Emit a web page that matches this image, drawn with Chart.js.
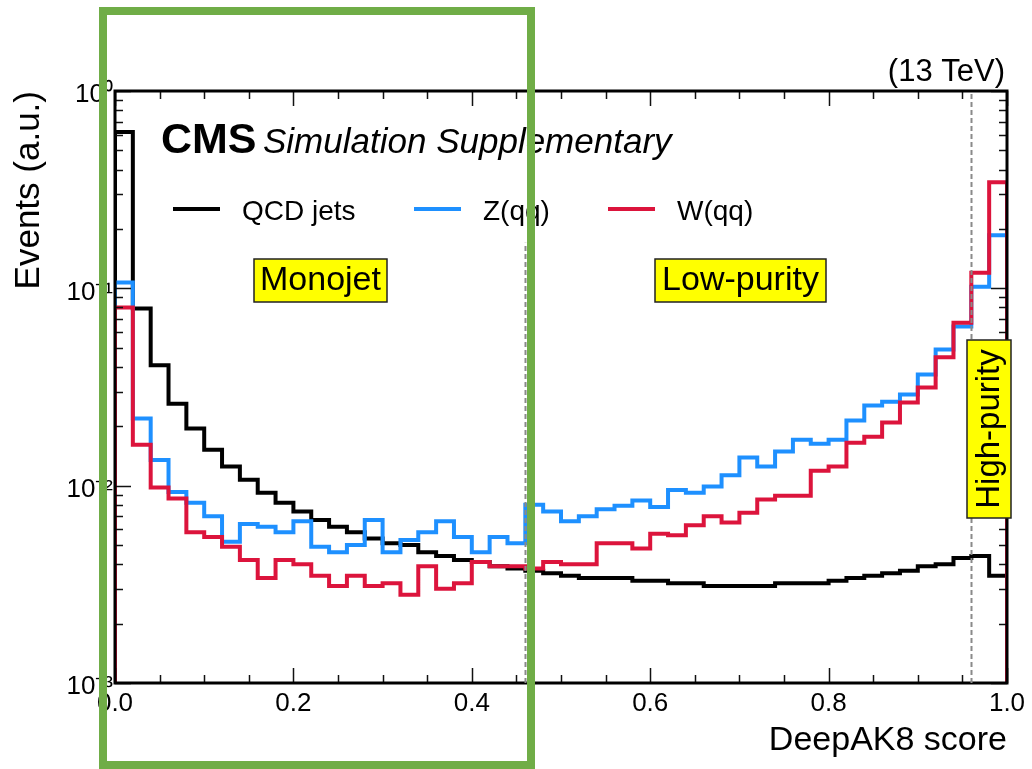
<!DOCTYPE html>
<html>
<head>
<meta charset="utf-8">
<title>DeepAK8 score</title>
<script src="https://cdn.jsdelivr.net/npm/chart.js@4/dist/chart.umd.min.js"></script>
<style>
  html, body { margin: 0; padding: 0; background: #ffffff; }
  #wrap { width: 1032px; height: 769px; position: relative; }
  canvas { display: block; }
</style>
</head>
<body>
<div id="wrap"><canvas id="chart" width="1032" height="769"></canvas></div>
<script>
// Histogram bin edges of the DeepAK8 score (50 bins)
const binEdges = [
  0.00, 0.02, 0.04, 0.06, 0.08, 0.10, 0.12, 0.14, 0.16, 0.18,
  0.20, 0.22, 0.24, 0.26, 0.28, 0.30, 0.32, 0.34, 0.36, 0.38,
  0.40, 0.42, 0.44, 0.46, 0.48, 0.50, 0.52, 0.54, 0.56, 0.58,
  0.60, 0.62, 0.64, 0.66, 0.68, 0.70, 0.72, 0.74, 0.76, 0.78,
  0.80, 0.82, 0.84, 0.86, 0.88, 0.90, 0.92, 0.94, 0.96, 0.98, 1.00
];

// Normalised event fractions per bin
const qcdJets = [
  0.62, 0.079, 0.0407, 0.026, 0.0195, 0.0152, 0.0125, 0.0107, 0.0092, 0.0082,
  0.0074, 0.0067, 0.0062, 0.0058, 0.0054, 0.0051, 0.0050, 0.0046, 0.0044, 0.0042,
  0.0041, 0.0039, 0.0038, 0.0037, 0.0036, 0.0035, 0.0034, 0.0034, 0.0034, 0.0033,
  0.0033, 0.0032, 0.0032, 0.0031, 0.0031, 0.0031, 0.0031, 0.0032, 0.0032, 0.0032,
  0.0033, 0.0034, 0.0035, 0.0036, 0.0037, 0.0039, 0.0040, 0.0043, 0.0044, 0.0035
];
const zToQQ = [
  0.107, 0.0219, 0.0135, 0.0093, 0.0082, 0.0070, 0.0052, 0.0064, 0.0062, 0.0058,
  0.0066, 0.0049, 0.0046, 0.0050, 0.0067, 0.0046, 0.0053, 0.0058, 0.0066, 0.0055,
  0.0046, 0.0055, 0.0051, 0.0080, 0.0074, 0.0066, 0.0070, 0.0076, 0.0079, 0.0084,
  0.0078, 0.0095, 0.0092, 0.0099, 0.0113, 0.0139, 0.0125, 0.0149, 0.0171, 0.0163,
  0.0171, 0.0214, 0.0255, 0.0266, 0.0290, 0.0366, 0.049, 0.064, 0.102, 0.186
];
const wToQQ = [
  0.080, 0.0161, 0.0098, 0.0086, 0.0058, 0.0055, 0.0049, 0.0042, 0.0034, 0.0042,
  0.0040, 0.0035, 0.0031, 0.0035, 0.0031, 0.0032, 0.0028, 0.0039, 0.0030, 0.0032,
  0.0041, 0.0039, 0.0039, 0.0038, 0.0041, 0.0040, 0.0040, 0.0051, 0.0051, 0.0048,
  0.0057, 0.0056, 0.0063, 0.0070, 0.0065, 0.0073, 0.0085, 0.0089, 0.0089, 0.0119,
  0.0125, 0.0165, 0.0177, 0.0209, 0.0264, 0.0314, 0.0447, 0.067, 0.120, 0.345
];

const seriesNames = ['QCD jets', 'Z(qq)', 'W(qq)'];

// Axis ticks and labels
const xTickValues = [0.0, 0.2, 0.4, 0.6, 0.8, 1.0];
const xTickLabels = ['0.0', '0.2', '0.4', '0.6', '0.8', '1.0'];
const yTickValues = [0.001, 0.01, 0.1, 1];
const yTickLabels = ['10\u207B\u00B3', '10\u207B\u00B2', '10\u207B\u00B9', '10\u2070'];
const yMin = 0.001, yMax = 1;

// Category boundaries (working points on the score)
const categoryCuts = [0.46, 0.96];
const categoryNames = ['Monojet', 'Low-purity', 'High-purity'];

// ---- styling ----
const FONT = '"Liberation Sans", Arial, Helvetica, sans-serif';
const colors = ['#000000', '#1e90ff', '#dc143c'];

// Outline of a histogram: rises from the floor at the first edge, falls back at the last edge
function histogramOutline(edges, values, floor) {
  const pts = [{ x: edges[0], y: floor }];
  for (let i = 0; i < values.length; i++) pts.push({ x: edges[i], y: values[i] });
  pts.push({ x: edges[edges.length - 1], y: values[values.length - 1] });
  pts.push({ x: edges[edges.length - 1], y: floor });
  return pts;
}

const seriesValues = [qcdJets, zToQQ, wToQQ];
const datasets = seriesValues.map((vals, i) => ({
  label: seriesNames[i],
  data: histogramOutline(binEdges, vals, yMin),
  borderColor: colors[i],
  backgroundColor: colors[i],
  borderWidth: 4,
  pointRadius: 0,
  fill: false,
  // horizontal run across each bin, then the vertical jump at the next edge
  stepped: 'before',
  borderJoinStyle: 'miter',
  borderCapStyle: 'butt',
  order: 2 - i
}));

// Frame with inward ticks on all four sides
const framePlugin = {
  id: 'frameTicks',
  afterDatasetsDraw(chart) {
    const { ctx, chartArea: a, scales: { x, y } } = chart;
    ctx.save();
    ctx.strokeStyle = '#111';
    ctx.lineWidth = 1.5;
    ctx.beginPath();
    for (let k = 0; k <= 20; k++) {
      const px = Math.round(x.getPixelForValue(k * 0.05)) + 0.5;
      const len = (k % 4 === 0) ? 15 : 8;
      ctx.moveTo(px, a.bottom); ctx.lineTo(px, a.bottom - len);
      ctx.moveTo(px, a.top); ctx.lineTo(px, a.top + len);
    }
    for (let e = -3; e <= 0; e++) {
      const base = Math.pow(10, e);
      const py = Math.round(y.getPixelForValue(base)) + 0.5;
      ctx.moveTo(a.left, py); ctx.lineTo(a.left + 16, py);
      ctx.moveTo(a.right, py); ctx.lineTo(a.right - 16, py);
      if (e < 0) {
        for (let m = 2; m <= 9; m++) {
          const pm = Math.round(y.getPixelForValue(m * base)) + 0.5;
          ctx.moveTo(a.left, pm); ctx.lineTo(a.left + 8, pm);
          ctx.moveTo(a.right, pm); ctx.lineTo(a.right - 8, pm);
        }
      }
    }
    ctx.stroke();
    ctx.strokeStyle = '#000';
    ctx.lineWidth = 3;
    ctx.strokeRect(a.left, a.top, a.right - a.left, a.bottom - a.top);
    ctx.restore();
  }
};

function yellowBox(ctx, x0, y0, w, h) {
  ctx.fillStyle = '#ffff00';
  ctx.fillRect(x0, y0, w, h);
  ctx.strokeStyle = '#222';
  ctx.lineWidth = 1.5;
  ctx.strokeRect(x0, y0, w, h);
}

// Labels, legend, category boundaries and the highlighted region
const overlayPlugin = {
  id: 'overlay',
  afterDraw(chart) {
    const { ctx, chartArea: a, scales: { x, y } } = chart;
    ctx.save();

    // category boundaries
    ctx.strokeStyle = '#8a8a8a';
    ctx.lineWidth = 2;
    ctx.setLineDash([5, 3]);
    const cutTops = [y.getPixelForValue(0.17), a.top];
    categoryCuts.forEach((c, i) => {
      const px = Math.round(x.getPixelForValue(c)) + 0.5;
      ctx.beginPath();
      ctx.moveTo(px, a.bottom);
      ctx.lineTo(px, cutTops[i]);
      ctx.stroke();
    });
    ctx.setLineDash([]);

    // CMS label
    ctx.fillStyle = '#000';
    ctx.textBaseline = 'alphabetic';
    ctx.textAlign = 'left';
    ctx.font = 'bold 43px ' + FONT;
    ctx.fillText('CMS', a.left + 46, 153);
    ctx.font = 'italic 35px ' + FONT;
    ctx.fillText('Simulation Supplementary', a.left + 148, 153);
    ctx.font = '31px ' + FONT;
    ctx.textAlign = 'right';
    ctx.fillText('(13 TeV)', a.right - 2, 81);

    // legend
    const lineStarts = [173, 414, 608];
    const textStarts = [242, 483, 677];
    ctx.textAlign = 'left';
    ctx.font = '28px ' + FONT;
    chart.data.datasets.forEach((ds, i) => {
      ctx.strokeStyle = ds.borderColor;
      ctx.lineWidth = 4;
      ctx.beginPath();
      ctx.moveTo(lineStarts[i], 209);
      ctx.lineTo(lineStarts[i] + 47, 209);
      ctx.stroke();
      ctx.fillStyle = '#000';
      ctx.fillText(ds.label, textStarts[i], 220);
    });

    // category boxes
    ctx.font = '34px ' + FONT;
    ctx.textAlign = 'center';
    yellowBox(ctx, 254, 259, 133, 43);
    ctx.fillStyle = '#000';
    ctx.fillText(categoryNames[0], 320.5, 290);
    yellowBox(ctx, 655, 259, 171, 43);
    ctx.fillStyle = '#000';
    ctx.fillText(categoryNames[1], 740.5, 290);
    yellowBox(ctx, 967, 340, 44, 178);
    ctx.save();
    ctx.translate(999, 429);
    ctx.rotate(-Math.PI / 2);
    ctx.fillStyle = '#000';
    ctx.font = '33px ' + FONT;
    ctx.fillText(categoryNames[2], 0, 0);
    ctx.restore();

    // highlighted region
    ctx.strokeStyle = '#70ad47';
    ctx.lineWidth = 8;
    ctx.strokeRect(103, 11, 428, 754);

    ctx.restore();
  }
};

new Chart(document.getElementById('chart'), {
  type: 'line',
  data: { datasets },
  options: {
    responsive: false,
    animation: false,
    devicePixelRatio: 1,
    layout: { padding: { top: 91, right: 25, bottom: 0, left: 0 } },
    plugins: {
      legend: { display: false },
      tooltip: { enabled: false },
      title: { display: false }
    },
    scales: {
      x: {
        type: 'linear',
        min: 0,
        max: 1,
        grid: { display: false, drawTicks: false },
        border: { display: false },
        afterBuildTicks: (s) => { s.ticks = xTickValues.map(v => ({ value: v })); },
        afterFit: (s) => { s.height = 86; },
        ticks: {
          autoSkip: false,
          maxRotation: 0,
          padding: 5,
          color: '#000',
          font: { family: FONT, size: 26 },
          callback: (v, i) => xTickLabels[i]
        },
        title: {
          display: true,
          text: 'DeepAK8 score',
          align: 'end',
          color: '#000',
          font: { family: FONT, size: 34 },
          padding: { top: 0, bottom: 8 }
        }
      },
      y: {
        type: 'logarithmic',
        min: yMin,
        max: yMax,
        grid: { display: false, drawTicks: false },
        border: { display: false },
        afterBuildTicks: (s) => { s.ticks = yTickValues.map(v => ({ value: v, major: true })); },
        afterFit: (s) => { s.width = 115; },
        ticks: {
          autoSkip: false,
          padding: 2,
          labelOffset: 4,
          color: '#000',
          font: { family: FONT, size: 26 },
          callback: (v, i) => yTickLabels[i]
        },
        title: {
          display: true,
          text: 'Events (a.u.)',
          align: 'end',
          color: '#000',
          font: { family: FONT, size: 35 },
          padding: { top: 8, bottom: 0 }
        }
      }
    }
  },
  plugins: [framePlugin, overlayPlugin]
});
</script>
</body>
</html>
